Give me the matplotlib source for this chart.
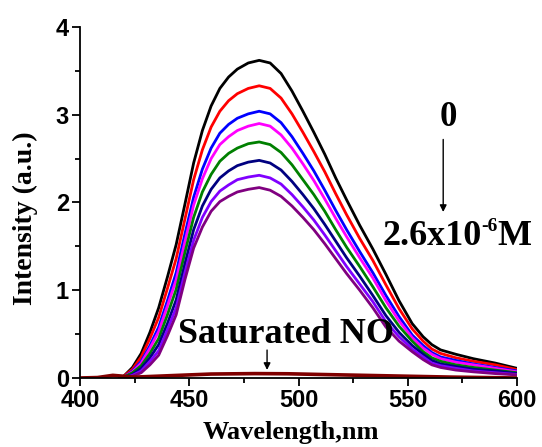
import matplotlib
matplotlib.use("Agg")
import matplotlib.pyplot as plt
from matplotlib.ticker import MultipleLocator

wavelength = [418, 420, 424, 428, 432, 436, 440, 444, 448, 452, 456, 460, 464, 468, 472, 477,
              482, 487, 492, 497, 502, 507, 512, 517, 522, 528, 534, 540, 546, 552, 557, 561,
              565, 572, 580, 590, 600]

s_black = [0.00, 0.02, 0.12, 0.28, 0.52, 0.80, 1.15, 1.52, 1.98, 2.45, 2.82, 3.10, 3.30, 3.43,
           3.52, 3.59, 3.62, 3.59, 3.47, 3.27, 3.04, 2.80, 2.55, 2.28, 2.03, 1.74, 1.47, 1.18,
           0.88, 0.62, 0.47, 0.38, 0.32, 0.27, 0.22, 0.17, 0.11]
s_red = [0.00, 0.02, 0.10, 0.24, 0.45, 0.69, 1.02, 1.36, 1.81, 2.26, 2.60, 2.86, 3.04, 3.16,
         3.24, 3.30, 3.33, 3.30, 3.19, 3.01, 2.80, 2.58, 2.35, 2.10, 1.86, 1.59, 1.34, 1.06,
         0.79, 0.56, 0.42, 0.33, 0.28, 0.23, 0.19, 0.15, 0.095]
s_blue = [0.00, 0.01, 0.08, 0.19, 0.37, 0.58, 0.88, 1.20, 1.64, 2.06, 2.38, 2.62, 2.79, 2.89,
          2.96, 3.01, 3.04, 3.01, 2.91, 2.75, 2.56, 2.36, 2.14, 1.91, 1.69, 1.44, 1.20, 0.94,
          0.70, 0.49, 0.37, 0.29, 0.24, 0.20, 0.16, 0.12, 0.08]
s_magenta = [0.00, 0.01, 0.07, 0.17, 0.34, 0.53, 0.82, 1.12, 1.55, 1.97, 2.27, 2.50, 2.66, 2.75,
             2.82, 2.87, 2.90, 2.87, 2.77, 2.62, 2.44, 2.25, 2.04, 1.82, 1.61, 1.37, 1.14, 0.88,
             0.65, 0.46, 0.34, 0.27, 0.22, 0.18, 0.15, 0.11, 0.07]
s_green = [0.00, 0.01, 0.06, 0.14, 0.28, 0.45, 0.72, 1.01, 1.43, 1.83, 2.12, 2.32, 2.47, 2.56,
           2.62, 2.67, 2.69, 2.66, 2.57, 2.43, 2.26, 2.09, 1.90, 1.69, 1.49, 1.27, 1.04, 0.80,
           0.59, 0.42, 0.30, 0.23, 0.19, 0.15, 0.12, 0.09, 0.06]
s_navy = [0.00, 0.00, 0.04, 0.11, 0.23, 0.38, 0.62, 0.89, 1.30, 1.69, 1.96, 2.15, 2.28, 2.36,
          2.42, 2.46, 2.48, 2.45, 2.37, 2.24, 2.09, 1.93, 1.75, 1.56, 1.37, 1.16, 0.94, 0.71,
          0.52, 0.37, 0.27, 0.20, 0.16, 0.13, 0.10, 0.08, 0.05]
s_violet = [0.00, 0.00, 0.03, 0.08, 0.19, 0.31, 0.55, 0.80, 1.20, 1.57, 1.83, 2.01, 2.13, 2.20,
            2.26, 2.29, 2.31, 2.28, 2.21, 2.09, 1.95, 1.80, 1.63, 1.45, 1.27, 1.07, 0.87, 0.64,
            0.47, 0.33, 0.24, 0.17, 0.14, 0.11, 0.08, 0.06, 0.04]
s_purple = [0.00, 0.00, 0.02, 0.06, 0.15, 0.26, 0.48, 0.72, 1.12, 1.48, 1.72, 1.90, 2.01, 2.07,
            2.12, 2.15, 2.17, 2.14, 2.07, 1.96, 1.83, 1.69, 1.53, 1.36, 1.19, 1.00, 0.80, 0.58,
            0.42, 0.30, 0.21, 0.15, 0.12, 0.09, 0.07, 0.05, 0.035]

series = [s_black, s_red, s_blue, s_magenta, s_green, s_navy, s_violet, s_purple]
colors = ["#000000", "#FF0000", "#0000FF", "#FF00FF", "#008000", "#000080", "#8000FF", "#800080"]

no_wl = [400, 408, 415, 420, 425, 440, 460, 480, 495, 510, 530, 550, 570, 600]
no_val = [0.0, 0.005, 0.03, 0.02, 0.01, 0.025, 0.045, 0.05, 0.048, 0.04, 0.03, 0.02, 0.01, 0.0]

fig = plt.figure(figsize=(5.42, 4.47), dpi=100)
ax = fig.add_axes([0.1476, 0.1544, 0.8064, 0.7852])

for s, c in zip(series, colors):
    ax.plot(wavelength, s, color=c, lw=2.0, solid_joinstyle="round", solid_capstyle="round")
ax.plot(no_wl, no_val, color="#800000", lw=2.6, solid_joinstyle="round")

ax.set_xlim(400, 600)
ax.set_ylim(0, 4)
ax.xaxis.set_major_locator(MultipleLocator(50))
ax.xaxis.set_minor_locator(MultipleLocator(25))
ax.yaxis.set_major_locator(MultipleLocator(1))
ax.yaxis.set_minor_locator(MultipleLocator(0.5))
for sp in ["top", "right"]:
    ax.spines[sp].set_visible(False)
for sp in ["left", "bottom"]:
    ax.spines[sp].set_linewidth(1.3)
ax.tick_params(which="major", direction="out", length=6, width=1.3, pad=2)
ax.tick_params(which="minor", direction="out", length=3.5, width=1.3)
for lab in ax.get_xticklabels() + ax.get_yticklabels():
    lab.set_fontfamily("Liberation Sans")
    lab.set_fontweight("bold")
    lab.set_fontsize(17)

serif = "Liberation Serif"
fig.text(291 / 542, 1 - 433 / 447, "Wavelength,nm", fontfamily=serif, fontweight="bold",
         fontsize=19, ha="center", va="center")
fig.text(25 / 542, 1 - 218 / 447, "Intensity (a.u.)", fontfamily=serif, fontweight="bold",
         fontsize=20, ha="center", va="center", rotation=90)

ax.text(568.5, 2.97, "0", fontfamily=serif, fontweight="bold", fontsize=25,
        ha="center", va="center")
ax.annotate("", xy=(566.2, 1.86), xytext=(566.2, 2.75),
            arrowprops=dict(arrowstyle="-|>", color="black", lw=1.0, mutation_scale=10))

t1 = ax.text(561.0, 1.61, "2.6x10", fontfamily=serif, fontweight="bold", fontsize=26,
             ha="center", va="center")
t2 = ax.annotate("-6", xy=(1, 1), xycoords=t1, xytext=(0, 1.5), textcoords="offset points",
                 fontfamily=serif, fontweight="bold", fontsize=14, ha="left", va="top")
ax.annotate("M", xy=(1, 0), xycoords=(t2, t1), xytext=(0, 0), textcoords="offset points",
            fontfamily=serif, fontweight="bold", fontsize=26, ha="left", va="bottom")

ax.text(494.4, 0.49, "Saturated NO", fontfamily=serif, fontweight="bold", fontsize=26,
        ha="center", va="center")
ax.annotate("", xy=(485.6, 0.06), xytext=(485.6, 0.35),
            arrowprops=dict(arrowstyle="-|>", color="black", lw=1.0, mutation_scale=10))

fig.savefig("out.png", dpi=100)
